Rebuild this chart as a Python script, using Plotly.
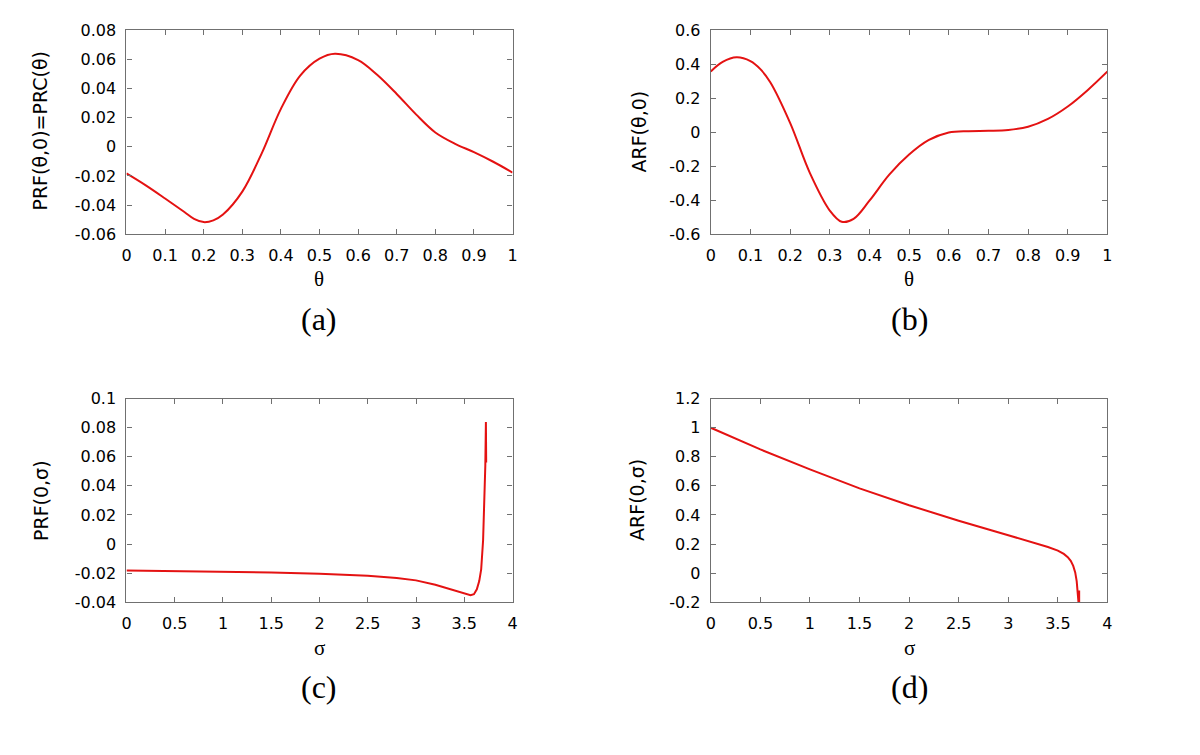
import plotly.graph_objects as go

# ---------------- data ----------------
theta_a = [0.0, 0.05, 0.1, 0.15, 0.175, 0.2, 0.225, 0.25, 0.3, 0.35, 0.4, 0.45, 0.5, 0.54,
           0.6, 0.65, 0.7, 0.75, 0.8, 0.85, 0.9, 0.95, 1.0]
prf_a = [-0.0183, -0.0265, -0.0355, -0.0448, -0.0495, -0.0517, -0.0505, -0.0465,
         -0.0308, -0.0047, 0.0260, 0.0488, 0.0604, 0.0638, 0.0595, 0.0492, 0.0362,
         0.0222, 0.0098, 0.0022, -0.0037, -0.0103, -0.0177]

theta_b = [0.0, 0.03, 0.065, 0.1, 0.125, 0.15, 0.2, 0.25, 0.3, 0.33, 0.36, 0.4,
           0.45, 0.5, 0.55, 0.6, 0.65, 0.7, 0.75, 0.8, 0.85, 0.9, 0.95, 1.0]
arf_b = [0.357, 0.413, 0.440, 0.418, 0.371, 0.294, 0.055, -0.241, -0.461, -0.527,
         -0.510, -0.403, -0.250, -0.132, -0.046, -0.002, 0.006, 0.008, 0.013,
         0.032, 0.078, 0.151, 0.247, 0.357]

sigma_c = [0.0, 0.5, 1.0, 1.5, 2.0, 2.5, 2.8, 3.0, 3.2, 3.35, 3.45, 3.52, 3.565,
           3.6, 3.63, 3.655, 3.675, 3.695, 3.708, 3.718, 3.724, 3.727, 3.724, 3.727, 3.724]
prf_c = [-0.0182, -0.0185, -0.0190, -0.0196, -0.0204, -0.0218, -0.0234, -0.0250,
         -0.0280, -0.0310, -0.0332, -0.0346, -0.0352, -0.0345, -0.0312, -0.0255,
         -0.0175, 0.0026, 0.0250, 0.0540, 0.0840, 0.0560, 0.0800, 0.0580, 0.0820]

sigma_d = [0.0, 0.5, 1.0, 1.5, 2.0, 2.5, 3.0, 3.25, 3.4, 3.5, 3.56, 3.6, 3.63,
           3.655, 3.675, 3.69, 3.70, 3.708, 3.715, 3.715]
arf_d = [1.0, 0.851, 0.713, 0.583, 0.467, 0.360, 0.260, 0.212, 0.180, 0.155,
         0.132, 0.110, 0.084, 0.050, 0.005, -0.055, -0.115, -0.200, -0.120, -0.210]

# tick labels
theta_ticks = [0, 0.1, 0.2, 0.3, 0.4, 0.5, 0.6, 0.7, 0.8, 0.9, 1.0]
theta_ticktext = ["0", "0.1", "0.2", "0.3", "0.4", "0.5", "0.6", "0.7", "0.8", "0.9", "1"]
sigma_ticks = [0, 0.5, 1, 1.5, 2, 2.5, 3, 3.5, 4]
sigma_ticktext = ["0", "0.5", "1", "1.5", "2", "2.5", "3", "3.5", "4"]
ya_ticks = [-0.06, -0.04, -0.02, 0, 0.02, 0.04, 0.06, 0.08]
ya_ticktext = ["-0.06", "-0.04", "-0.02", "0", "0.02", "0.04", "0.06", "0.08"]
yb_ticks = [-0.6, -0.4, -0.2, 0, 0.2, 0.4, 0.6]
yb_ticktext = ["-0.6", "-0.4", "-0.2", "0", "0.2", "0.4", "0.6"]
yc_ticks = [-0.04, -0.02, 0, 0.02, 0.04, 0.06, 0.08, 0.1]
yc_ticktext = ["-0.04", "-0.02", "0", "0.02", "0.04", "0.06", "0.08", "0.1"]
yd_ticks = [-0.2, 0, 0.2, 0.4, 0.6, 0.8, 1.0, 1.2]
yd_ticktext = ["-0.2", "0", "0.2", "0.4", "0.6", "0.8", "1", "1.2"]

ytitles = ["PRF(θ,0)=PRC(θ)", "ARF(θ,0)", "PRF(0,σ)", "ARF(0,σ)"]
xtitles = ["θ", "θ", "σ", "σ"]
panel_labels = ["(a)", "(b)", "(c)", "(d)"]

# ---------------- layout geometry (pixels) ----------------
W, H = 1200, 755
LEFT_X = (122.5, 511.8)
RIGHT_X = (711.7, 1111.7)
TOP_Y = (21.7, 231.0)
BOT_Y = (399.7, 608.5)

def xd(px):
    return [px[0] / W, px[1] / W]

def yd(py):
    return [1 - py[1] / H, 1 - py[0] / H]

RED = "rgb(228,18,18)"
AXC = "#707070"

fig = go.Figure()
fig.add_trace(go.Scatter(x=theta_a, y=prf_a, mode="lines", line=dict(color=RED, width=2, shape="spline"),
                         xaxis="x", yaxis="y", showlegend=False))
fig.add_trace(go.Scatter(x=theta_b, y=arf_b, mode="lines", line=dict(color=RED, width=2, shape="spline"),
                         xaxis="x2", yaxis="y2", showlegend=False))
fig.add_trace(go.Scatter(x=sigma_c, y=prf_c, mode="lines", line=dict(color=RED, width=2),
                         xaxis="x3", yaxis="y3", showlegend=False))
fig.add_trace(go.Scatter(x=sigma_d, y=arf_d, mode="lines", line=dict(color=RED, width=2),
                         xaxis="x4", yaxis="y4", showlegend=False))

def ax(domain, rng, tv, tt, anchor):
    return dict(domain=domain, range=rng, tickvals=tv, ticktext=tt, anchor=anchor,
                showline=True, linecolor=AXC, linewidth=1.3, mirror="ticks",
                ticks="inside", ticklen=5, tickwidth=1, tickcolor=AXC,
                showgrid=False, zeroline=False, ticklabelstandoff=6,
                tickfont=dict(family="DejaVu Sans", size=16, color="black"))

fig.update_layout(
    width=W, height=H, paper_bgcolor="white", plot_bgcolor="white",
    margin=dict(l=0, r=0, t=0, b=0),
    xaxis=ax(xd(LEFT_X), [0, 1], theta_ticks, theta_ticktext, "y"),
    yaxis=ax(yd(TOP_Y), [-0.06, 0.08], ya_ticks, ya_ticktext, "x"),
    xaxis2=ax(xd(RIGHT_X), [0, 1], theta_ticks, theta_ticktext, "y2"),
    yaxis2=ax(yd(TOP_Y), [-0.6, 0.6], yb_ticks, yb_ticktext, "x2"),
    xaxis3=ax(xd(LEFT_X), [0, 4], sigma_ticks, sigma_ticktext, "y3"),
    yaxis3=ax(yd(BOT_Y), [-0.04, 0.1], yc_ticks, yc_ticktext, "x3"),
    xaxis4=ax(xd(RIGHT_X), [0, 4], sigma_ticks, sigma_ticktext, "y4"),
    yaxis4=ax(yd(BOT_Y), [-0.2, 1.2], yd_ticks, yd_ticktext, "x4"),
)

ann = []
ytitle_pos = [(35, 125), (639, 126), (37, 504), (638, 504)]
xtitle_pos = [(317, 277), (912, 277), (317, 655), (912, 655)]
label_pos = [(317, 318), (912, 318), (317, 695), (912, 695)]
for t, (px, py) in zip(ytitles, ytitle_pos):
    ann.append(dict(text=t, x=px / W, y=1 - py / H, xref="paper", yref="paper",
                    xanchor="center", yanchor="middle", textangle=-90, showarrow=False,
                    font=dict(family="DejaVu Sans", size=19, color="black")))
for t, (px, py) in zip(xtitles, xtitle_pos):
    ann.append(dict(text=t, x=px / W, y=1 - py / H, xref="paper", yref="paper",
                    xanchor="center", yanchor="middle", showarrow=False,
                    font=dict(family="Liberation Serif", size=21, color="black")))
for t, (px, py) in zip(panel_labels, label_pos):
    ann.append(dict(text=t, x=px / W, y=1 - py / H, xref="paper", yref="paper",
                    xanchor="center", yanchor="middle", showarrow=False,
                    font=dict(family="Liberation Serif", size=32, color="black")))
fig.update_layout(annotations=ann)

fig.write_html("out.html", config={"displayModeBar": False},
               post_script="document.body.style.margin='0px';document.body.style.overflow='hidden';")
